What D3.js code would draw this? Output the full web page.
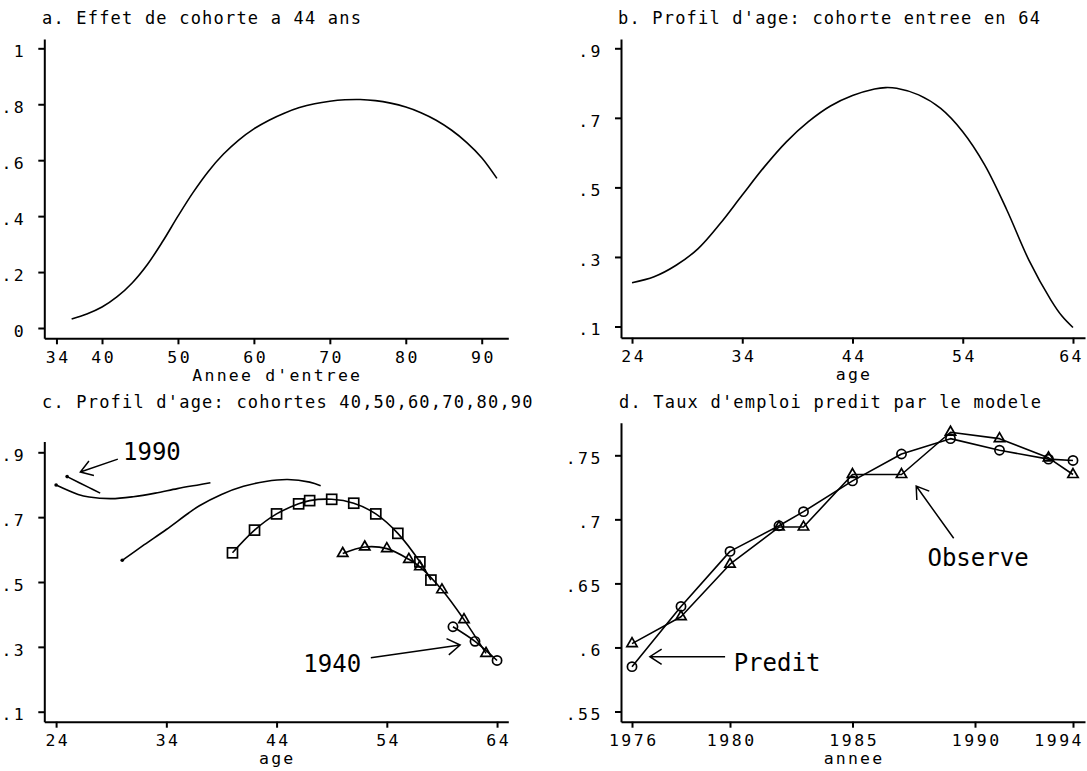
<!DOCTYPE html>
<html><head><meta charset="utf-8">
<script src="https://cdn.jsdelivr.net/npm/d3@7"></script>
<style>body{margin:0;background:#fff}svg{display:block}</style>
</head><body>
<svg id="chart" width="1087" height="771"></svg>
<script>
// ---------- DATA ----------
// Panel a: cohort effect at age 44, by year of entry
const aEntry = [36,38,40,42,44,46,48,50,52,54,56,58,60,62,64,66,68,70,72,74,76,78,80,82,84,86,88,90,92];
const aValues = [0.032,0.050,0.075,0.112,0.162,0.228,0.310,0.400,0.485,0.560,0.622,0.672,0.712,0.743,0.768,0.788,0.802,0.811,0.816,0.817,0.813,0.804,0.790,0.770,0.743,0.708,0.664,0.609,0.535];
const aXTicks = [34,40,50,60,70,80,90];
const aYTicks = [0,0.2,0.4,0.6,0.8,1];

// Panel b: age profile, cohort entered in 64
const bAges = [24,26,28,30,32,34,36,38,40,42,44,46,47,48,50,52,54,56,58,60,62,63,64];
const bValues = [0.226,0.243,0.276,0.324,0.396,0.478,0.559,0.631,0.689,0.734,0.764,0.783,0.787,0.785,0.766,0.727,0.660,0.564,0.435,0.291,0.176,0.130,0.097];
const bXTicks = [24,34,44,54,64];
const bYTicks = [0.1,0.3,0.5,0.7,0.9];

// Panel c: age profiles of cohorts 40..90
const c40Ages = [60,62,64];
const c40Values = [0.362,0.317,0.258];
const c50Ages = [50,52,54,56,57,59,61,63];
const c50Values = [0.588,0.608,0.603,0.570,0.547,0.476,0.384,0.280];
const c60Ages = [40,42,44,46,47,49,51,53,55,57,58];
const c60Values = [0.590,0.660,0.710,0.741,0.751,0.755,0.743,0.710,0.650,0.562,0.506];
const c70Ages = [30,32,34,36,37,39,41,43,45,47,48];
const c70Values = [0.567,0.615,0.662,0.712,0.735,0.770,0.795,0.810,0.816,0.808,0.797];
const c80Ages = [24,26,27,29,31,33,35,37,38];
const c80Values = [0.799,0.770,0.762,0.757,0.763,0.774,0.788,0.800,0.806];
const c90Ages = [25,27,28];
const c90Values = [0.825,0.791,0.774];
const cXTicks = [24,34,44,54,64];
const cYTicks = [0.1,0.3,0.5,0.7,0.9];

// Panel d: predicted vs observed employment rate
const dYears = [1976,1978,1980,1982,1983,1985,1987,1989,1991,1993,1994];
const dPredit = [0.585,0.632,0.675,0.695,0.706,0.730,0.751,0.763,0.754,0.747,0.746];
const dObserve = [0.603,0.624,0.665,0.694,0.694,0.735,0.735,0.768,0.763,0.748,0.735];
const dXTicks = [1976,1980,1985,1990,1994];
const dYTicks = [0.55,0.6,0.65,0.7,0.75];

// ---------- DRAWING ----------
const svg = d3.select('#chart');
const FONT = '"DejaVu Sans Mono", monospace';
const fmt = v => { let s = String(+v.toFixed(3)); return s.replace(/^0\./,'.'); };

function makePanel(p){
  const g = svg.append('g');
  const x = d3.scaleLinear().domain(p.xDomain).range(p.xRange);
  const y = d3.scaleLinear().domain(p.yDomain).range(p.yRange);
  const ls = 2.5, fs = 16.5;
  const gx = g.append('g').attr('transform', `translate(0,${p.yRange[0]})`)
    .call(d3.axisBottom(x).tickValues(p.xTicks).tickSize(6).tickSizeOuter(0).tickPadding(6.6).tickFormat(d => String(d)));
  const gy = g.append('g').attr('transform', `translate(${p.xRange[0]},0)`)
    .call(d3.axisLeft(y).tickValues(p.yTicks).tickSize(6).tickSizeOuter(0).tickPadding(12).tickFormat(fmt));
  [gx, gy].forEach(a => {
    a.select('.domain').attr('stroke','#000').attr('stroke-width',2);
    a.selectAll('.tick line').attr('stroke','#000').attr('stroke-width',2);
    a.selectAll('.tick text').attr('fill','#000').style('font-family',FONT)
      .style('font-size',fs+'px').style('letter-spacing',ls+'px');
  });
  gx.selectAll('.tick text').attr('dx', ls/2);
  // keep the last x label inside the frame
  gx.selectAll('.tick').each(function(d){
    const t = d3.select(this).select('text');
    const bb = t.node().getBBox();
    const right = x(d) + bb.x + bb.width - ls;
    if (right > 1081) t.attr('dx', ls/2 - (right - 1081));
  });
  gy.selectAll('.tick text').attr('dy','0.5em');
  g.append('text').attr('x', p.titleX).attr('y', p.titleY).text(p.title)
    .style('font-family',FONT).style('font-size','17px').style('letter-spacing','1.2px');
  g.append('text').attr('x', (p.xRange[0]+p.xRange[1])/2 + 1).attr('y', p.yRange[0] + 42.5)
    .attr('text-anchor','middle').text(p.xTitle)
    .style('font-family',FONT).style('font-size',fs+'px').style('letter-spacing','2.2px');
  return {g, x, y};
}

function drawLine(P, xs, ys, curve){
  const pts = xs.map((v,i) => [v, ys[i]]);
  P.g.append('path').datum(pts)
    .attr('d', d3.line().x(d => P.x(d[0])).y(d => P.y(d[1])).curve(curve || d3.curveLinear))
    .attr('fill','none').attr('stroke','#000').attr('stroke-width',1.6).attr('stroke-linejoin','round');
  return pts;
}

function drawMarkers(P, pts, kind){
  const sel = P.g.append('g').selectAll('.m').data(pts).enter();
  const style = s => s.attr('fill','none').attr('stroke','#000').attr('stroke-width',1.7);
  if (kind === 'circle') style(sel.append('circle').attr('cx', d => P.x(d[0])).attr('cy', d => P.y(d[1])).attr('r', 4.6));
  if (kind === 'square') style(sel.append('rect').attr('x', d => P.x(d[0]) - 5).attr('y', d => P.y(d[1]) - 5).attr('width', 10).attr('height', 10));
  if (kind === 'triangle') style(sel.append('path').attr('d', d3.symbol().type(d3.symbolTriangle).size(46))
      .attr('transform', d => `translate(${P.x(d[0])},${P.y(d[1])})`));
  if (kind === 'dot') sel.append('circle').attr('cx', d => P.x(d[0])).attr('cy', d => P.y(d[1])).attr('r', 1.8).attr('fill','#000');
}

function arrow(P, from, to, head){
  const x1 = P.x(from[0]), y1 = P.y(from[1]), x2 = P.x(to[0]), y2 = P.y(to[1]);
  const ang = Math.atan2(y1 - y2, x1 - x2), L = head || 14, a = 33 * Math.PI / 180;
  const h1 = [x2 + L*Math.cos(ang + a), y2 + L*Math.sin(ang + a)];
  const h2 = [x2 + L*Math.cos(ang - a), y2 + L*Math.sin(ang - a)];
  P.g.append('path').attr('d', `M${x1},${y1}L${x2},${y2}M${h1[0]},${h1[1]}L${x2},${y2}L${h2[0]},${h2[1]}`)
    .attr('fill','none').attr('stroke','#000').attr('stroke-width',1.5);
}

function label(P, pos, txt){
  P.g.append('text').attr('x', P.x(pos[0])).attr('y', P.y(pos[1])).text(txt)
    .style('font-family',FONT).style('font-size','24px').attr('fill','#000');
}

// Panel a
const A = makePanel({xDomain:[32.4,93.5], xRange:[44.3,508.3], yDomain:[-0.0368,1.0333], yRange:[338.3,39],
  xTicks:aXTicks, yTicks:aYTicks, title:'a. Effet de cohorte a 44 ans', titleX:42, titleY:24, xTitle:"Annee d'entree"});
drawLine(A, aEntry, aValues, d3.curveCatmullRom);

// Panel b
const B = makePanel({xDomain:[23.0,65.09], xRange:[621,1085], yDomain:[0.0678,0.9267], yRange:[337.7,39],
  xTicks:bXTicks, yTicks:bYTicks, title:"b. Profil d'age: cohorte entree en 64", titleX:618, titleY:24, xTitle:'age'});
drawLine(B, bAges, bValues, d3.curveCatmullRom);

// Panel c
const C = makePanel({xDomain:[22.93,65.02], xRange:[44.3,508.3], yDomain:[0.0692,0.9333], yRange:[721.7,441.5],
  xTicks:cXTicks, yTicks:cYTicks, title:"c. Profil d'age: cohortes 40,50,60,70,80,90", titleX:42, titleY:408.3, xTitle:'age'});
const curveC = d3.curveCatmullRom;
drawMarkers(C, drawLine(C, c90Ages, c90Values, curveC).slice(0,1), 'dot');
drawMarkers(C, drawLine(C, c80Ages, c80Values, curveC).slice(0,1), 'dot');
drawMarkers(C, drawLine(C, c70Ages, c70Values, curveC).slice(0,1), 'dot');
drawMarkers(C, drawLine(C, c60Ages, c60Values, curveC), 'square');
drawMarkers(C, drawLine(C, c50Ages, c50Values, curveC), 'triangle');
drawMarkers(C, drawLine(C, c40Ages, c40Values, curveC), 'circle');
arrow(C, [29.6,0.879], [26.2,0.839], 14);
label(C, [30.07,0.876], '1990');
arrow(C, [52.55,0.2665], [60.65,0.3058], 15);
label(C, [46.43,0.2234], '1940');

// Panel d
const D = makePanel({xDomain:[1975.551,1994.49], xRange:[621,1085], yDomain:[0.54204,0.77545], yRange:[721.7,422.7],
  xTicks:dXTicks, yTicks:dYTicks, title:"d. Taux d'emploi predit par le modele", titleX:619, titleY:408.3, xTitle:'annee'});
drawMarkers(D, drawLine(D, dYears, dObserve), 'triangle');
drawMarkers(D, drawLine(D, dYears, dPredit), 'circle');
arrow(D, [1979.8,0.5928], [1976.73,0.5928], 14);
label(D, [1980.15,0.5816], 'Predit');
arrow(D, [1989.13,0.6852], [1987.6,0.726], 14);
label(D, [1988.06,0.6636], 'Observe');
</script>
</body></html>
